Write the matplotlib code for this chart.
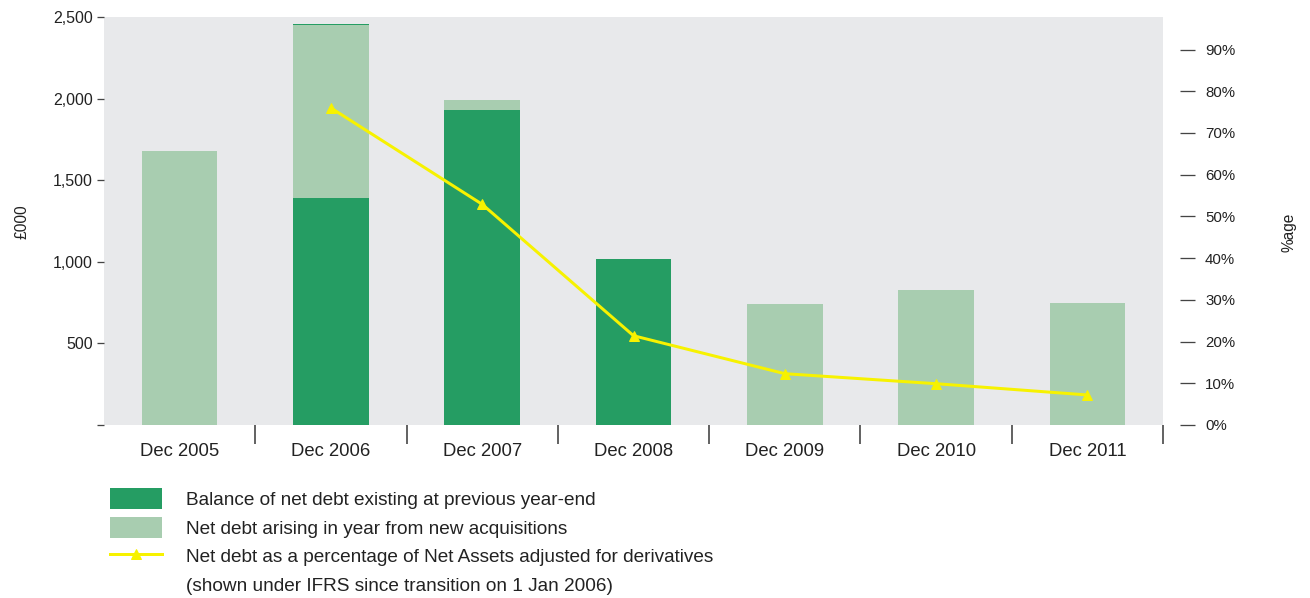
import numpy as np
import matplotlib
matplotlib.use("Agg")
import matplotlib.pyplot as plt
from matplotlib.patches import Patch
from matplotlib.lines import Line2D

plt.rcParams['font.family'] = ['Liberation Sans', 'DejaVu Sans']

categories = ["Dec 2005", "Dec 2006", "Dec 2007", "Dec 2008", "Dec 2009", "Dec 2010", "Dec 2011"]
existing = [0, 1388, 1933, 1020, 0, 0, 0]
acquired = [1676, 1062, 61, 0, 744, 830, 750]
top_edge = [0, 10, 0, 0, 0, 0, 0]
pct = [76.0, 52.9, 21.4, 12.3, 9.9, 7.2]
left_ticks = [0, 500, 1000, 1500, 2000, 2500]
left_labels = ["", "500", "1,000", "1,500", "2,000", "2,500"]
right_ticks = [0, 10, 20, 30, 40, 50, 60, 70, 80, 90]

DARK = '#259D63'
LIGHT = '#A8CDB0'
YELLOW = '#F7F200'
BG = '#E8E9EB'
TXT = '#222222'

W, H = 1310, 598
fig = plt.figure(figsize=(W / 72, H / 72), dpi=72)
ax = fig.add_axes([104 / W, 1 - 425 / H, (1163 - 104) / W, (425 - 17) / H])
ax.set_facecolor(BG)

x = np.arange(len(categories))
ax.bar(x, existing, 0.5, color=DARK, zorder=2)
ax.bar(x, acquired, 0.5, bottom=existing, color=LIGHT, zorder=2)
ax.bar(x, top_edge, 0.5, bottom=np.array(existing) + np.array(acquired), color=DARK, zorder=2)

ax.set_xlim(-0.5, len(categories) - 0.5)
ax.set_ylim(0, 2500)
for s in ax.spines.values():
    s.set_visible(False)

ax.set_xticks(x)
ax.set_xticklabels(categories, fontsize=18.5, color=TXT)
ax.set_xticks(np.arange(0.5, len(categories), 1), minor=True)
ax.tick_params(axis='x', which='major', length=0, pad=18)
ax.tick_params(axis='x', which='minor', length=19, width=1.5, color='#333333', direction='out')

ax.set_yticks(left_ticks)
ax.set_yticklabels(left_labels, fontsize=16, color=TXT)
ax.tick_params(axis='y', which='major', length=7, width=1.3, color='#444444', pad=4)

ax2 = ax.twinx()
ax2.set_ylim(0, 97.8)
for s in ax2.spines.values():
    s.set_visible(False)
ax2.spines['right'].set_position(('outward', 17))
ax2.set_yticks(right_ticks)
ax2.set_yticklabels([f"{t}%" for t in right_ticks], fontsize=15, color=TXT)
ax2.tick_params(axis='y', which='major', length=15, width=1.3, color='#444444', pad=10, direction='out')
ax2.plot(x[1:], pct, color=YELLOW, lw=3, marker='^', markersize=10, markerfacecolor=YELLOW,
         markeredgecolor=YELLOW, zorder=5)

fig.text(22 / W, 1 - 222 / H, "£000", rotation=90, ha='center', va='center', fontsize=15.5, color=TXT)
fig.text(1289 / W, 1 - 232 / H, "%age", rotation=90, ha='center', va='center', fontsize=15.5, color=TXT)

handles = [
    Patch(facecolor=DARK, edgecolor='none'),
    Patch(facecolor=LIGHT, edgecolor='none'),
    Line2D([0], [0], color=YELLOW, lw=3, marker='^', markersize=10),
    Patch(facecolor='none', edgecolor='none'),
]
labels = [
    "Balance of net debt existing at previous year-end",
    "Net debt arising in year from new acquisitions",
    "Net debt as a percentage of Net Assets adjusted for derivatives",
    "(shown under IFRS since transition on 1 Jan 2006)",
]
fig.legend(handles, labels, loc='upper left', bbox_to_anchor=(110 / W, 1 - 488 / H),
           frameon=False, fontsize=19, handlelength=2.75, handleheight=1.3,
           labelspacing=0.43, handletextpad=1.25, borderaxespad=0, borderpad=0,
           labelcolor=TXT)

fig.savefig("out.png", dpi=72)
